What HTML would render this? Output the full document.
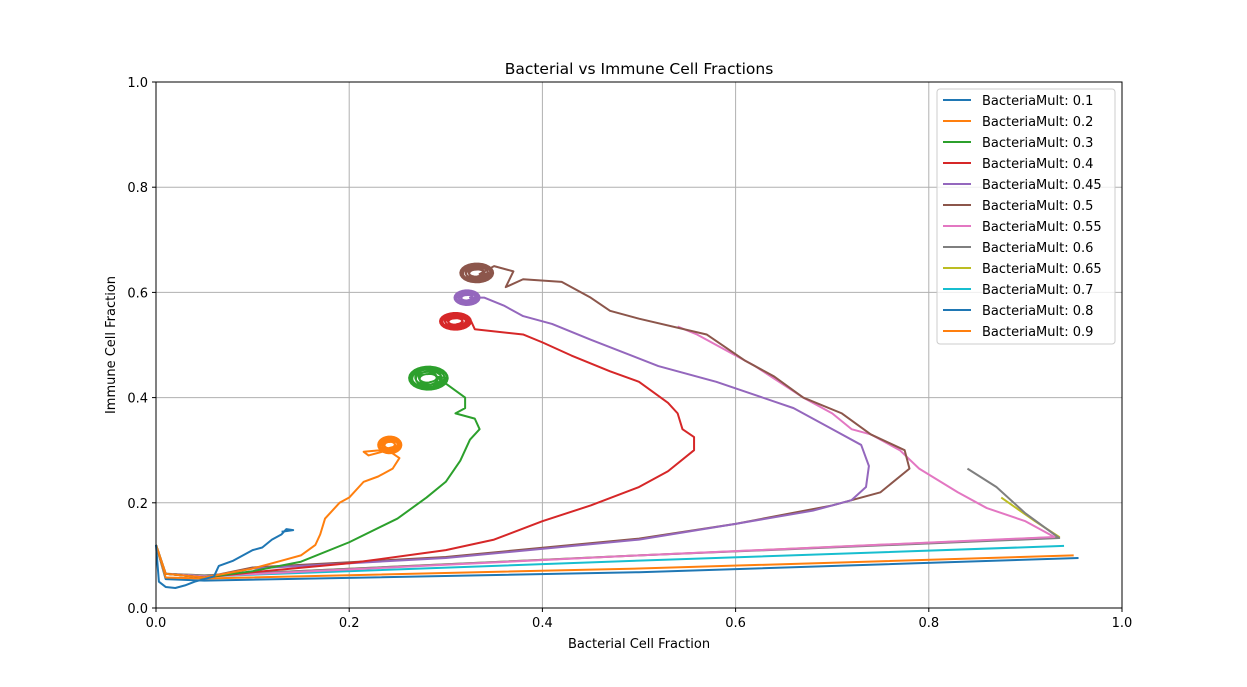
<!DOCTYPE html>
<html><head><meta charset="utf-8"><style>
body{margin:0;background:#fff;font-family:"DejaVu Sans","Liberation Sans",sans-serif}
</style></head><body>
<svg id="c" width="1247" height="683" viewBox="0 0 1247 683" xmlns="http://www.w3.org/2000/svg" font-family="DejaVu Sans, Liberation Sans, sans-serif">
<rect width="1247" height="683" fill="#fff"/>
<g id="grid"></g><g id="plot"></g><g id="axes"></g><g id="legend"></g>
</svg>
<script>
const xTicks=[0,0.2,0.4,0.6,0.8,1.0];
const yTicks=[0,0.2,0.4,0.6,0.8,1.0];
const tickLabels=["0.0","0.2","0.4","0.6","0.8","1.0"];
const seriesNames=["BacteriaMult: 0.1","BacteriaMult: 0.2","BacteriaMult: 0.3","BacteriaMult: 0.4","BacteriaMult: 0.45","BacteriaMult: 0.5","BacteriaMult: 0.55","BacteriaMult: 0.6","BacteriaMult: 0.65","BacteriaMult: 0.7","BacteriaMult: 0.8","BacteriaMult: 0.9"];
const colors=["#1f77b4","#ff7f0e","#2ca02c","#d62728","#9467bd","#8c564b","#e377c2","#7f7f7f","#bcbd22","#17becf","#1f77b4","#ff7f0e"];
const s01=[[0,0.12],[0.003,0.05],[0.01,0.04],[0.02,0.038],[0.03,0.043],[0.04,0.05],[0.06,0.06],[0.065,0.08],[0.08,0.09],[0.09,0.1],[0.1,0.11],[0.11,0.115],[0.12,0.13],[0.13,0.14],[0.135,0.15],[0.142,0.148],[0.13,0.145]];
const s02=[[0,0.12],[0.01,0.065],[0.05,0.058],[0.1,0.075],[0.13,0.09],[0.15,0.1],[0.165,0.12],[0.17,0.14],[0.175,0.17],[0.19,0.2],[0.2,0.21],[0.215,0.24],[0.23,0.25],[0.245,0.265],[0.252,0.285],[0.24,0.3],[0.22,0.29],[0.215,0.297],[0.232,0.3]];
const s03=[[0,0.12],[0.01,0.065],[0.05,0.058],[0.1,0.07],[0.15,0.088],[0.2,0.125],[0.25,0.17],[0.28,0.21],[0.3,0.24],[0.315,0.28],[0.325,0.32],[0.335,0.34],[0.33,0.36],[0.31,0.37],[0.32,0.38],[0.32,0.4],[0.305,0.42],[0.29,0.44]];
const s04=[[0,0.12],[0.01,0.065],[0.05,0.058],[0.1,0.068],[0.2,0.085],[0.3,0.11],[0.35,0.13],[0.4,0.165],[0.45,0.195],[0.5,0.23],[0.53,0.26],[0.557,0.3],[0.557,0.325],[0.545,0.34],[0.54,0.37],[0.53,0.39],[0.5,0.43],[0.47,0.45],[0.43,0.48],[0.4,0.505],[0.38,0.52],[0.33,0.53],[0.325,0.55],[0.31,0.555]];
const s045=[[0,0.12],[0.01,0.065],[0.05,0.058],[0.1,0.075],[0.3,0.095],[0.5,0.13],[0.6,0.16],[0.68,0.185],[0.72,0.205],[0.735,0.23],[0.738,0.27],[0.73,0.31],[0.7,0.34],[0.66,0.38],[0.62,0.405],[0.58,0.43],[0.52,0.46],[0.45,0.51],[0.41,0.54],[0.38,0.555],[0.36,0.575],[0.34,0.59],[0.325,0.59]];
const s05=[[0,0.12],[0.01,0.065],[0.05,0.058],[0.1,0.077],[0.3,0.097],[0.5,0.132],[0.6,0.16],[0.7,0.195],[0.75,0.22],[0.78,0.265],[0.775,0.3],[0.74,0.33],[0.71,0.37],[0.67,0.4],[0.64,0.44],[0.61,0.47],[0.57,0.52],[0.5,0.55],[0.47,0.565],[0.45,0.59],[0.42,0.62],[0.38,0.625],[0.362,0.61],[0.37,0.64],[0.35,0.65],[0.335,0.635]];
const s055=[[0,0.12],[0.01,0.065],[0.05,0.06],[0.5,0.1],[0.93,0.135],[0.9,0.165],[0.86,0.19],[0.83,0.22],[0.79,0.265],[0.77,0.3],[0.74,0.33],[0.72,0.34],[0.7,0.37],[0.67,0.4],[0.62,0.46],[0.6,0.48],[0.56,0.52],[0.54,0.535]];
const s06=[[0,0.12],[0.01,0.065],[0.05,0.062],[0.5,0.1],[0.935,0.133],[0.9,0.18],[0.87,0.23],[0.84,0.265]];
const s065=[[0,0.12],[0.01,0.065],[0.05,0.062],[0.5,0.1],[0.935,0.135],[0.91,0.165],[0.875,0.21]];
const s07=[[0,0.12],[0.01,0.065],[0.05,0.06],[0.5,0.09],[0.94,0.118]];
const s08=[[0,0.12],[0.01,0.055],[0.05,0.052],[0.5,0.068],[0.955,0.095]];
const s09=[[0,0.12],[0.01,0.058],[0.05,0.056],[0.5,0.075],[0.95,0.1]];
const seriesData=[s01,s02,s03,s04,s045,s05,s055,s06,s065,s07,s08,s09];
const spiralIdx=[1,2,3,4,5];
const spiralCx=[0.242,0.282,0.31,0.322,0.332];
const spiralCy=[0.31,0.437,0.545,0.59,0.637];
const spiralRx=[0.012,0.02,0.016,0.013,0.017];
const spiralRy=[0.016,0.022,0.016,0.014,0.018];

const X=v=>156+v*966, Y=v=>608-v*526;
const NS="http://www.w3.org/2000/svg";
function mk(t,a,p){const e=document.createElementNS(NS,t);for(const k in a)e.setAttribute(k,a[k]);p.appendChild(e);return e;}
const grid=document.getElementById('grid'),plot=document.getElementById('plot'),axes=document.getElementById('axes'),leg=document.getElementById('legend');
xTicks.forEach((t,i)=>{
 const g=mk('line',{x1:X(t),x2:X(t),y1:82,y2:608,stroke:'#b0b0b0','stroke-width':1},grid);
 
 
 mk('line',{x1:X(t),x2:X(t),y1:608,y2:612,stroke:'#000'},axes);
 const tx=mk('text',{x:X(t),y:627,'text-anchor':'middle','font-size':13},axes);tx.textContent=tickLabels[i];
 
 
});
yTicks.forEach((t,i)=>{
 const g=mk('line',{x1:156,x2:1122,y1:Y(t),y2:Y(t),stroke:'#b0b0b0','stroke-width':1},grid);
 
 
 mk('line',{x1:152,x2:156,y1:Y(t),y2:Y(t),stroke:'#000'},axes);
 const tx=mk('text',{x:148,y:Y(t)+5,'text-anchor':'end','font-size':13},axes);tx.textContent=tickLabels[i];
 
 
});
const fr=mk('rect',{x:156,y:82,width:966,height:526,fill:'none',stroke:'#000','stroke-width':1},axes);


let t=mk('text',{x:639,y:74,'text-anchor':'middle','font-size':15.5},axes);t.textContent='Bacterial vs Immune Cell Fractions';


t=mk('text',{x:639,y:648,'text-anchor':'middle','font-size':13},axes);t.textContent='Bacterial Cell Fraction';


t=mk('text',{x:115,y:345,'text-anchor':'middle','font-size':13,transform:'rotate(-90 115 345)'},axes);t.textContent='Immune Cell Fraction';



const order=[10,11,9,8,7,6,5,4,3,2,1,0];
order.forEach(i=>{
 let pts=seriesData[i].map(p=>X(p[0])+','+Y(p[1]));
 const k=spiralIdx.indexOf(i);
 if(k>=0){
  for(let a=0;a<=10*Math.PI*2;a+=0.25){
   const f=0.35+0.65*Math.abs(Math.cos(a*0.11));
   pts.push(X(spiralCx[k]+spiralRx[k]*f*Math.cos(a))+','+Y(spiralCy[k]+spiralRy[k]*f*Math.sin(a)));
  }
 }
 const pl=mk('polyline',{points:pts.join(' '),fill:'none',stroke:colors[i],'stroke-width':2,'stroke-linejoin':'round'},plot);
 
 
});

const box=mk('rect',{x:937,y:89,width:178,height:255,fill:'#fff','fill-opacity':0.8,stroke:'#ccc',rx:3},leg);


seriesNames.forEach((n,i)=>{
 const y=100+i*21;
 const g=mk('g',{},leg);
 
 
 mk('line',{x1:943,x2:971,y1:y,y2:y,stroke:colors[i],'stroke-width':2},g);
 const tx=mk('text',{x:982,y:y+5,'font-size':13},g);tx.textContent=n;
});
</script>
</body></html>
